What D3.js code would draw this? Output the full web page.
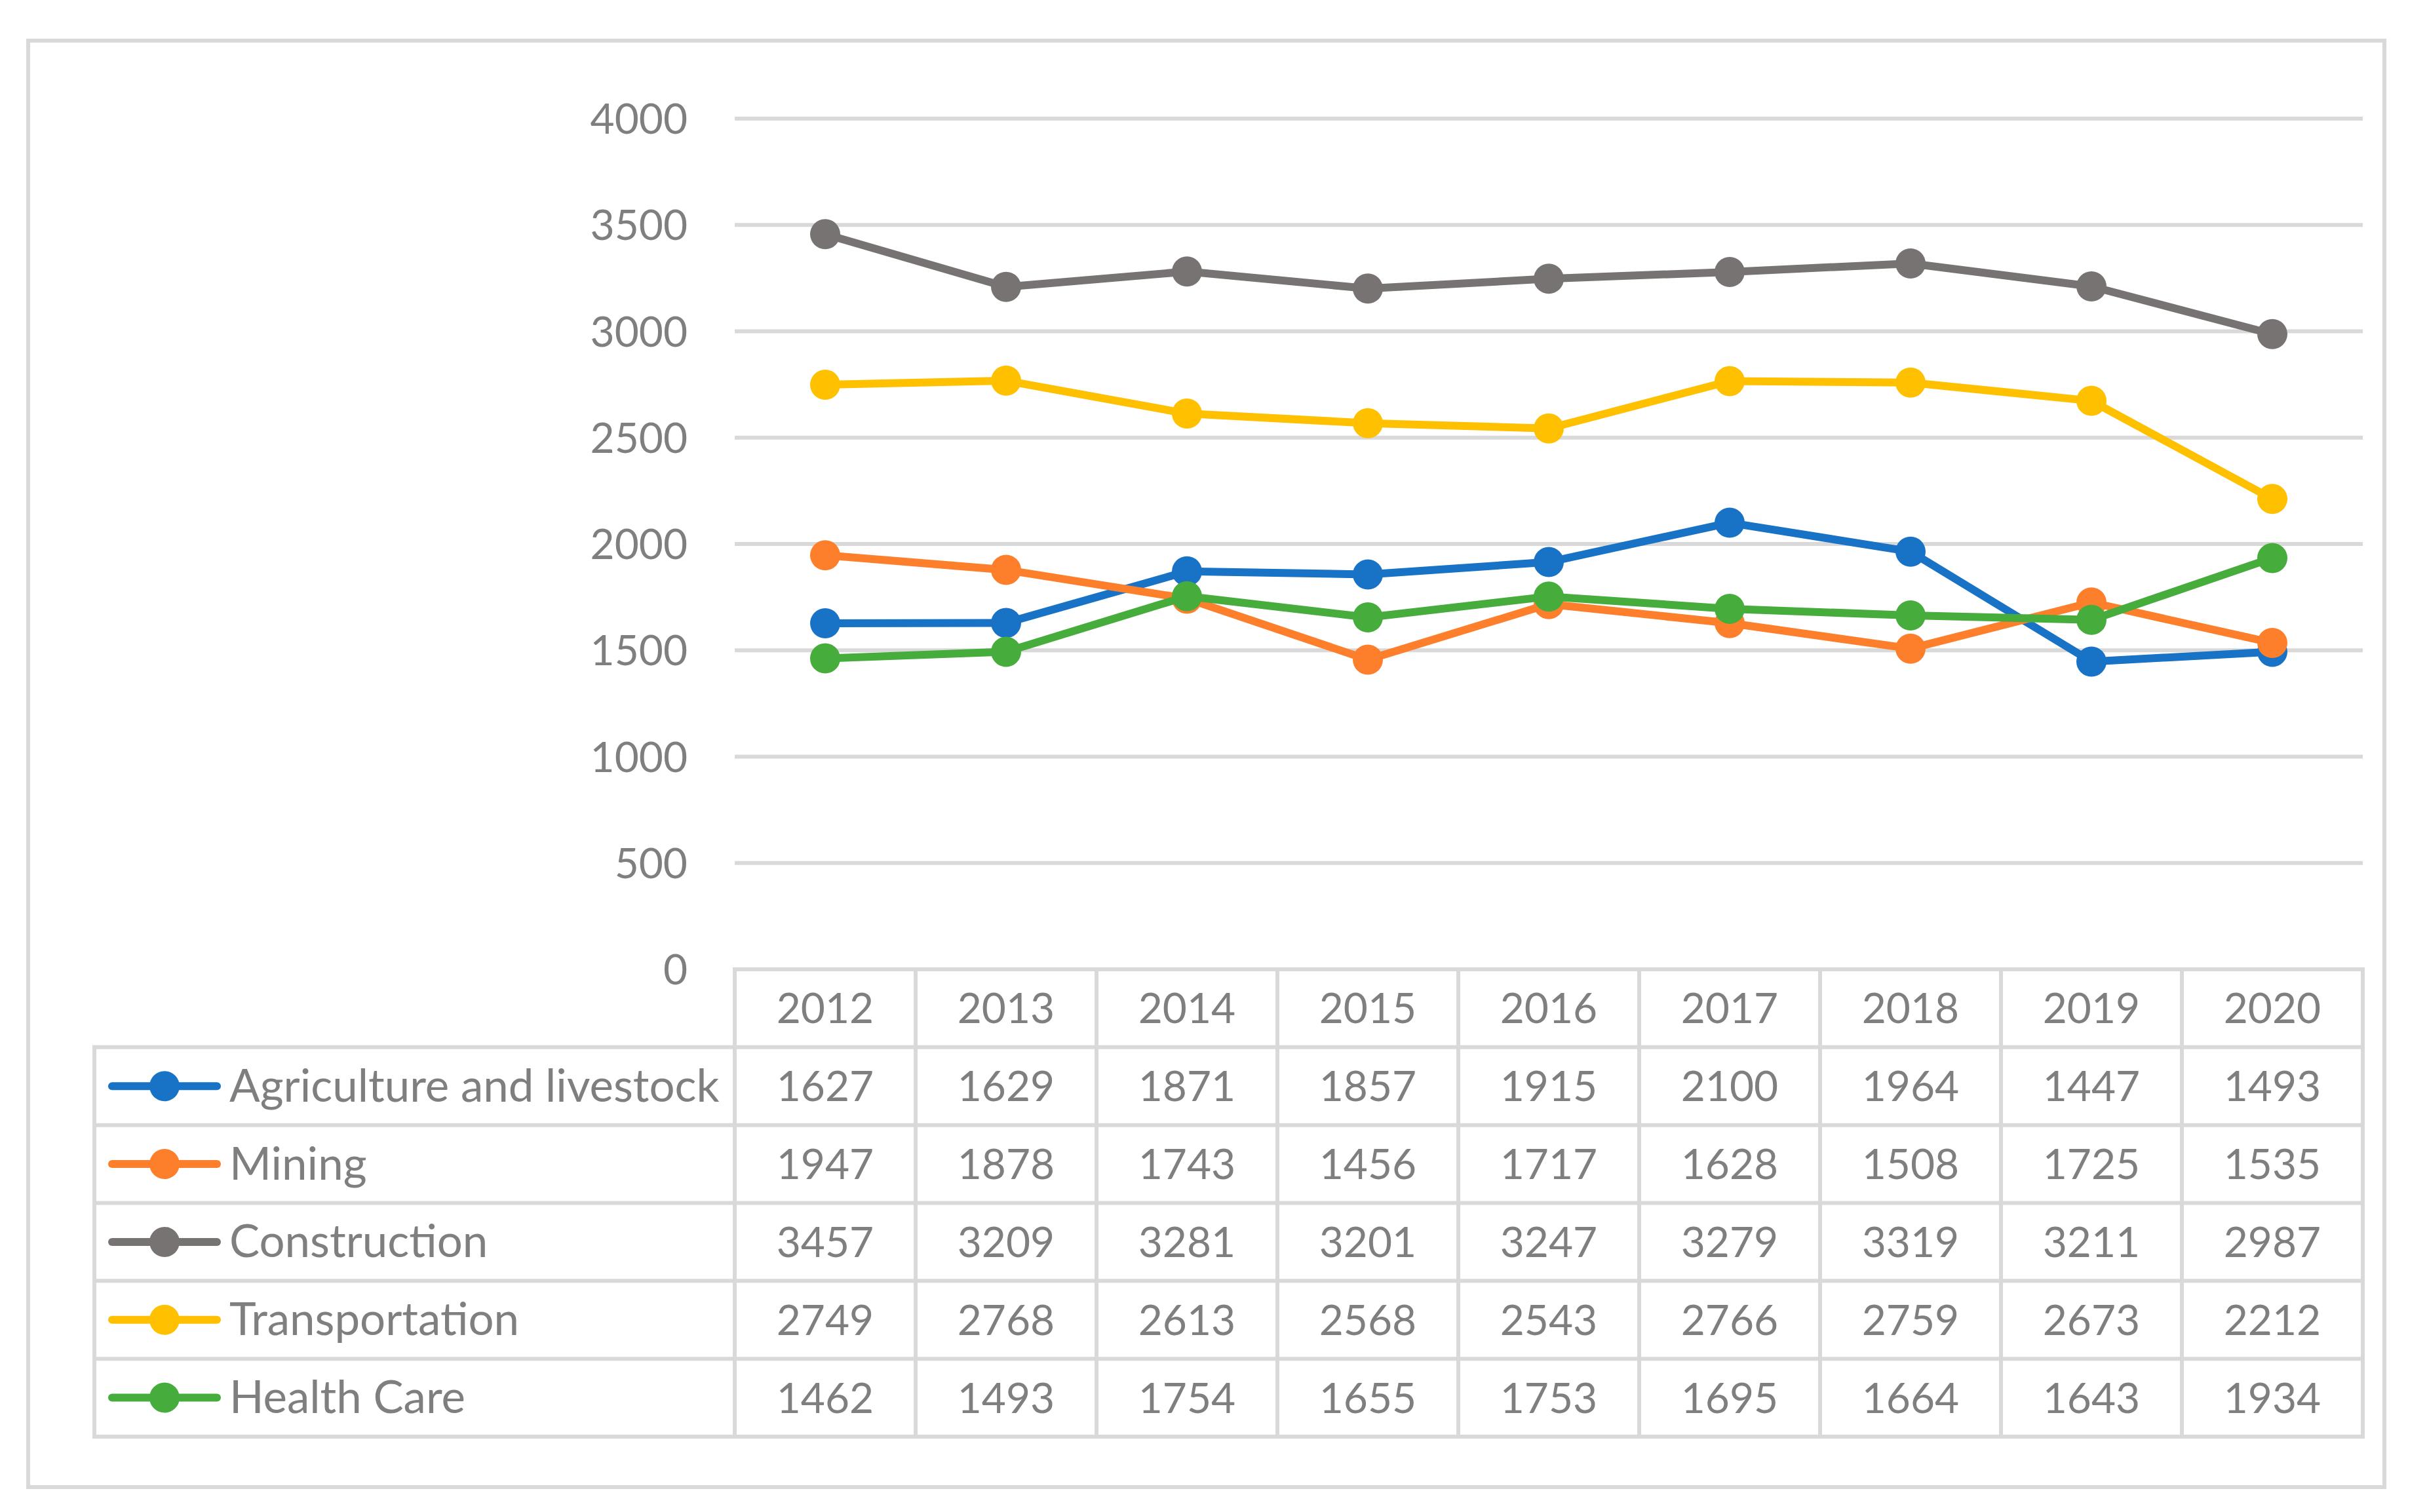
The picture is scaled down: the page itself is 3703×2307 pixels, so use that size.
<!DOCTYPE html>
<html>
<head>
<meta charset="utf-8">
<script src="https://cdn.jsdelivr.net/npm/d3@7"></script>
<style>
  html, body { margin: 0; padding: 0; background: #fff; }
  text { font-family: Lato, "Open Sans", sans-serif; fill: #7f7f7f; }
</style>
</head>
<body>
<div id="chart"></div>
<script>
// Values
const years = ["2012", "2013", "2014", "2015", "2016", "2017", "2018", "2019", "2020"];
const seriesNames = ["Agriculture and livestock", "Mining", "Construction", "Transportation", "Health Care"];
const agriculture = [1627, 1629, 1871, 1857, 1915, 2100, 1964, 1447, 1493];
const mining = [1947, 1878, 1743, 1456, 1717, 1628, 1508, 1725, 1535];
const construction = [3457, 3209, 3281, 3201, 3247, 3279, 3319, 3211, 2987];
const transportation = [2749, 2768, 2613, 2568, 2543, 2766, 2759, 2673, 2212];
const healthCare = [1462, 1493, 1754, 1655, 1753, 1695, 1664, 1643, 1934];
const yTicks = [0, 500, 1000, 1500, 2000, 2500, 3000, 3500, 4000];
const colors = ["#1872c6", "#fe7f2b", "#787373", "#ffc000", "#46ad3c"];

const series = seriesNames.map((name, i) => ({
    name,
    color: colors[i],
    values: [agriculture, mining, construction, transportation, healthCare][i]
}));

// Chart dimensions
const width = 3703;
const height = 2307;
const plot = { left: 1121, right: 3605, top: 181, bottom: 1479 };
const tableLeft = 144;
const tableBottom = 2192;
const gridColor = "#d9d9d9";
const fontSize = 64;      // numbers
const nameFontSize = 69;  // series names in the table

const svg = d3.select("#chart").append("svg")
    .attr("width", width)
    .attr("height", height)
    .attr("viewBox", [0, 0, width, height]);

// Outer chart border
svg.append("rect")
    .attr("x", 43).attr("y", 62)
    .attr("width", 3638 - 43).attr("height", 2269 - 62)
    .attr("fill", "#fff")
    .attr("stroke", gridColor)
    .attr("stroke-width", 6);

// Scales
const x = d3.scaleBand()
    .domain(years)
    .range([plot.left, plot.right]);
const y = d3.scaleLinear()
    .domain([0, 4000])
    .range([plot.bottom, plot.top]);
const row = d3.scaleBand()
    .domain(["header"].concat(seriesNames))
    .range([plot.bottom, tableBottom]);

// Gridlines
svg.append("g")
    .selectAll("line")
    .data(yTicks.filter(d => d > 0))
    .join("line")
    .attr("x1", plot.left).attr("x2", plot.right)
    .attr("y1", d => y(d)).attr("y2", d => y(d))
    .attr("stroke", gridColor)
    .attr("stroke-width", 6);

// Y-axis labels
svg.append("g")
    .selectAll("text")
    .data(yTicks)
    .join("text")
    .attr("x", 1049)
    .attr("y", d => y(d))
    .attr("dy", "0.36em")
    .attr("text-anchor", "end")
    .style("font-size", fontSize + "px")
    .text(d => d);

// Data table grid
const grid = svg.append("g")
    .attr("stroke", gridColor)
    .attr("stroke-width", 6)
    .attr("stroke-linecap", "square");
// horizontal lines
grid.append("line")
    .attr("x1", plot.left).attr("x2", plot.right)
    .attr("y1", row("header")).attr("y2", row("header"));
grid.selectAll("line.h")
    .data(seriesNames)
    .join("line")
    .attr("class", "h")
    .attr("x1", tableLeft).attr("x2", plot.right)
    .attr("y1", d => row(d)).attr("y2", d => row(d));
grid.append("line")
    .attr("x1", tableLeft).attr("x2", plot.right)
    .attr("y1", tableBottom).attr("y2", tableBottom);
// vertical lines
grid.selectAll("line.v")
    .data(years)
    .join("line")
    .attr("class", "v")
    .attr("x1", d => x(d)).attr("x2", d => x(d))
    .attr("y1", plot.bottom).attr("y2", tableBottom);
grid.append("line")
    .attr("x1", plot.right).attr("x2", plot.right)
    .attr("y1", plot.bottom).attr("y2", tableBottom);
grid.append("line")
    .attr("x1", tableLeft).attr("x2", tableLeft)
    .attr("y1", row(seriesNames[0])).attr("y2", tableBottom);

// Header row (years)
svg.append("g")
    .selectAll("text")
    .data(years)
    .join("text")
    .attr("x", d => x(d) + x.bandwidth() / 2)
    .attr("y", row("header") + row.bandwidth() / 2)
    .attr("dy", "0.36em")
    .attr("text-anchor", "middle")
    .style("font-size", fontSize + "px")
    .text(d => d);

// Table rows: legend key, name and values
const rows = svg.append("g")
    .selectAll("g")
    .data(series)
    .join("g")
    .attr("transform", d => `translate(0,${row(d.name) + row.bandwidth() / 2})`);

rows.append("line")
    .attr("x1", 171).attr("x2", 331)
    .attr("stroke", d => d.color)
    .attr("stroke-width", 12)
    .attr("stroke-linecap", "round");
rows.append("circle")
    .attr("cx", 251)
    .attr("r", 23)
    .attr("fill", d => d.color);
rows.append("text")
    .attr("x", 350)
    .attr("dy", "0.34em")
    .style("font-size", nameFontSize + "px")
    .text(d => d.name);
rows.selectAll("text.val")
    .data(d => d.values)
    .join("text")
    .attr("class", "val")
    .attr("x", (v, i) => x(years[i]) + x.bandwidth() / 2)
    .attr("dy", "0.36em")
    .attr("text-anchor", "middle")
    .style("font-size", fontSize + "px")
    .text(v => v);

// Lines and markers
const line = d3.line()
    .x((v, i) => x(years[i]) + x.bandwidth() / 2)
    .y(v => y(v));

const lines = svg.append("g")
    .selectAll("g")
    .data(series)
    .join("g");

lines.append("path")
    .attr("d", d => line(d.values))
    .attr("fill", "none")
    .attr("stroke", d => d.color)
    .attr("stroke-width", 12)
    .attr("stroke-linejoin", "round");

lines.selectAll("circle")
    .data(d => d.values.map(v => ({ v, color: d.color })))
    .join("circle")
    .attr("cx", (d, i) => x(years[i]) + x.bandwidth() / 2)
    .attr("cy", d => y(d.v))
    .attr("r", 23)
    .attr("fill", d => d.color);
</script>
</body>
</html>
